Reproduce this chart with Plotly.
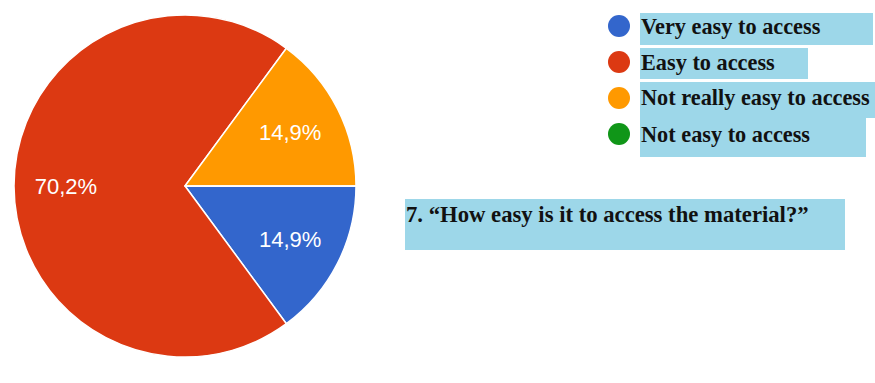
import plotly.graph_objects as go

labels = ["Very easy to access", "Easy to access", "Not really easy to access", "Not easy to access"]
values = [14.9, 70.2, 14.9, 0.0]
colors = ["#3366cc", "#dc3912", "#ff9900", "#109618"]
title_text = "7. \u201cHow easy is it to access the material?\u201d"

W, H = 875, 383
def px(x): return x / W
def py(y): return 1 - y / H

# pad the large slice's label so it sits further out, like the original
pad = ["", "\u00a0" * 11, "", ""]
templates = ["%{percent:.1%}" + p for p in pad]

fig = go.Figure()
fig.add_trace(go.Pie(
    labels=labels, values=values, sort=False, direction="clockwise", rotation=90,
    marker=dict(colors=colors, line=dict(color="white", width=1.5)),
    texttemplate=templates, textposition="inside", insidetextorientation="horizontal",
    textfont=dict(family="Liberation Sans, Arial", size=22, color="white"),
    domain=dict(x=[px(14), px(356)], y=[py(357), py(15)]),
    showlegend=False, hoverinfo="label+percent",
))

box = "#9dd7e9"
shapes = []
for (x0, y0, x1, y1) in [(640, 13, 873, 45), (640, 48, 808, 79), (640, 82, 875, 118), (640, 118, 866, 157), (405, 199, 845, 250)]:
    shapes.append(dict(type="rect", xref="paper", yref="paper", x0=px(x0), x1=px(x1), y0=py(y1), y1=py(y0),
                       fillcolor=box, line=dict(width=0), layer="below"))
ys = [26, 62, 98, 134]
annotations = []
for lab, col, y in zip(labels, colors, ys):
    shapes.append(dict(type="circle", xref="paper", yref="paper", x0=px(608), x1=px(630), y0=py(y + 11), y1=py(y - 11),
                       fillcolor=col, line=dict(width=0)))
    annotations.append(dict(text="<b>" + lab + "</b>", xref="paper", yref="paper", x=px(639), y=py(y), xanchor="left",
                            yanchor="middle", showarrow=False,
                            font=dict(family="Liberation Serif, Times New Roman", size=22.3, color="#111111")))
annotations.append(dict(text="<b>" + title_text + "</b>", xref="paper", yref="paper", x=px(404), y=py(214), xanchor="left",
                        yanchor="middle", showarrow=False,
                        font=dict(family="Liberation Serif, Times New Roman", size=22.7, color="#111111")))

fig.update_layout(width=W, height=H, margin=dict(l=0, r=0, t=0, b=0), paper_bgcolor="white", plot_bgcolor="white",
                  separators=",.", shapes=shapes, annotations=annotations)
fig.write_html("out.html", config={"displayModeBar": False},
               post_script="document.body.style.margin='0';document.body.style.overflow='hidden';")
